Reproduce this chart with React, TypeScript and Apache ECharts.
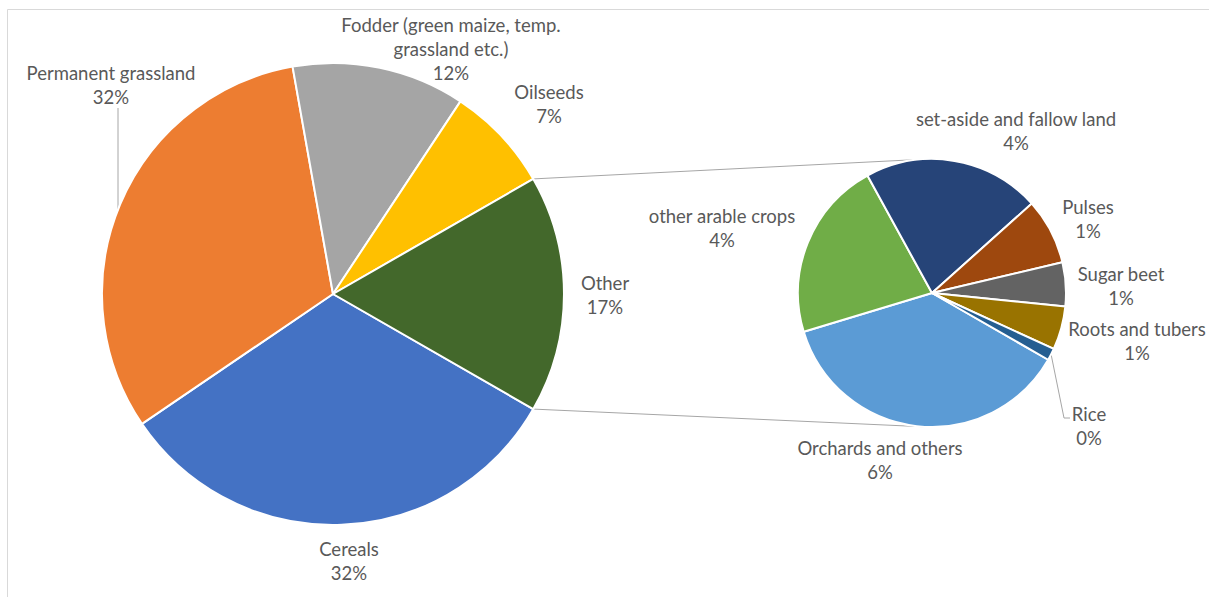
import React, { useEffect, useRef } from "react";
import * as echarts from "echarts";

// ---- data (percent of total agricultural area) ----
const mainCategories = [
  "Cereals",
  "Permanent grassland",
  "Fodder (green maize, temp. grassland etc.)",
  "Oilseeds",
  "Other",
];
const mainValues = [32.2, 31.7, 12.1, 7.4, 16.6];
const mainColors = ["#4472C4", "#ED7D31", "#A5A5A5", "#FFC000", "#43682B"];

const otherCategories = [
  "Orchards and others",
  "other arable crops",
  "set-aside and fallow land",
  "Pulses",
  "Sugar beet",
  "Roots and tubers",
  "Rice",
];
const otherValues = [6.15, 3.6, 3.55, 1.32, 0.88, 0.87, 0.24];
const otherColors = ["#5B9BD5", "#70AD47", "#264478", "#9E480E", "#636363", "#997300", "#255E91"];

// ---- layout (label centres, pie geometry) ----
const C1 = [333, 294];
const R1 = 231;
const C2 = [932, 293];
const R2 = 134;
const mainLabelPos = [
  [349, 561],
  [111, 85],
  [451, 49],
  [549, 104],
  [605, 295],
];
const otherLabelPos = [
  [880, 460],
  [722, 228],
  [1016, 131],
  [1088, 219],
  [1121, 286],
  [1137, 341],
  [1089, 426],
];
const wrapped: Record<string, string> = {
  "Fodder (green maize, temp. grassland etc.)": "Fodder (green maize, temp.\ngrassland etc.)",
};

const FONT = "Lato";
const TEXT = "#595959";
const LINE = "#A6A6A6";

function tangentPoint(P: number[], C: number[], r: number, sign: number) {
  const dx = P[0] - C[0];
  const dy = P[1] - C[1];
  const d = Math.sqrt(dx * dx + dy * dy);
  const base = Math.atan2(dy, dx);
  const a = base + sign * Math.acos(r / d);
  return [C[0] + r * Math.cos(a), C[1] + r * Math.sin(a)];
}

export default function App() {
  const ref = useRef<HTMLDivElement>(null);
  useEffect(() => {
    if (!ref.current) return;
    const chart = echarts.init(ref.current, undefined, { renderer: "svg" });
    const mainTotal = mainValues.reduce((a, b) => a + b, 0);
    const otherIdx = mainCategories.indexOf("Other");
    const before = mainValues.slice(0, otherIdx).reduce((a, b) => a + b, 0);
    const otherShare = mainValues[otherIdx];
    // Other slice centred at 3 o'clock
    const startAngle = ((before + otherShare / 2) / mainTotal) * 360;
    const half = ((otherShare / mainTotal) * 180 * Math.PI) / 180;
    const P1 = [C1[0] + R1 * Math.cos(half), C1[1] - R1 * Math.sin(half)];
    const P2 = [C1[0] + R1 * Math.cos(half), C1[1] + R1 * Math.sin(half)];
    const T1 = tangentPoint(P1, C2, R2, 1);
    const T2 = tangentPoint(P2, C2, R2, -1);

    // leader for Permanent grassland: vertical down to pie edge
    const lx = 118;
    const ly = C1[1] - Math.sqrt(R1 * R1 - (C1[0] - lx) * (C1[0] - lx));
    // leader for Rice: from slice mid
    const otherTotal = otherValues.reduce((a, b) => a + b, 0);
    const riceIdx = otherCategories.indexOf("Rice");
    const riceBefore = otherValues.slice(0, riceIdx).reduce((a, b) => a + b, 0);
    const riceMid =
      ((startAngle - ((riceBefore + otherValues[riceIdx] / 2) / otherTotal) * 360) * Math.PI) / 180;
    const riceStart = [C2[0] + R2 * Math.cos(riceMid), C2[1] - R2 * Math.sin(riceMid)];

    const labelCommon = {
      show: true,
      position: "outside",
      color: TEXT,
      fontFamily: FONT,
      fontSize: 18.5,
      lineHeight: 24,
      align: "center",
    };

    chart.setOption({
      animation: false,
      backgroundColor: "#ffffff",
      series: [
        {
          type: "pie",
          silent: true,
          center: C1,
          radius: R1,
          startAngle,
          clockwise: true,
          avoidLabelOverlap: false,
          itemStyle: { borderColor: "#ffffff", borderWidth: 2 },
          label: {
            ...labelCommon,
            formatter: (p: any) => `${wrapped[p.name] || p.name}\n${Math.round(p.value)}%`,
          },
          labelLine: { show: false },
          labelLayout: (p: any) => ({
            x: mainLabelPos[p.dataIndex][0],
            y: mainLabelPos[p.dataIndex][1],
            align: "center",
            verticalAlign: "middle",
          }),
          data: mainCategories.map((n, i) => ({
            name: n,
            value: mainValues[i],
            itemStyle: { color: mainColors[i] },
          })),
        },
        {
          type: "pie",
          silent: true,
          center: C2,
          radius: R2,
          startAngle,
          clockwise: true,
          avoidLabelOverlap: false,
          itemStyle: { borderColor: "#ffffff", borderWidth: 2 },
          label: {
            ...labelCommon,
            formatter: (p: any) => `${p.name}\n${Math.round(p.value)}%`,
          },
          labelLine: { show: false },
          labelLayout: (p: any) => ({
            x: otherLabelPos[p.dataIndex][0],
            y: otherLabelPos[p.dataIndex][1],
            align: "center",
            verticalAlign: "middle",
          }),
          data: otherCategories.map((n, i) => ({
            name: n,
            value: otherValues[i],
            itemStyle: { color: otherColors[i] },
          })),
        },
      ],
      graphic: [
        {
          type: "rect",
          silent: true,
          shape: { x: 7.5, y: 9.5, width: 1400, height: 800 },
          style: { fill: "none", stroke: "#D9D9D9", lineWidth: 1 },
        },
        {
          type: "line",
          silent: true,
          shape: { x1: P1[0], y1: P1[1], x2: T1[0], y2: T1[1] },
          style: { stroke: LINE, lineWidth: 1 },
        },
        {
          type: "line",
          silent: true,
          shape: { x1: P2[0], y1: P2[1], x2: T2[0], y2: T2[1] },
          style: { stroke: LINE, lineWidth: 1 },
        },
        {
          type: "line",
          silent: true,
          shape: { x1: lx, y1: 108, x2: lx, y2: ly },
          style: { stroke: LINE, lineWidth: 1 },
        },
        {
          type: "polyline",
          silent: true,
          shape: { points: [riceStart, [1064, 418], [1070, 418]] },
          style: { stroke: LINE, lineWidth: 1, fill: "none" },
        },
      ],
    });
    return () => chart.dispose();
  }, []);
  return (
    <div
      ref={ref}
      style={{ position: "fixed", left: 0, top: 0, width: 1209, height: 597 }}
    />
  );
}
